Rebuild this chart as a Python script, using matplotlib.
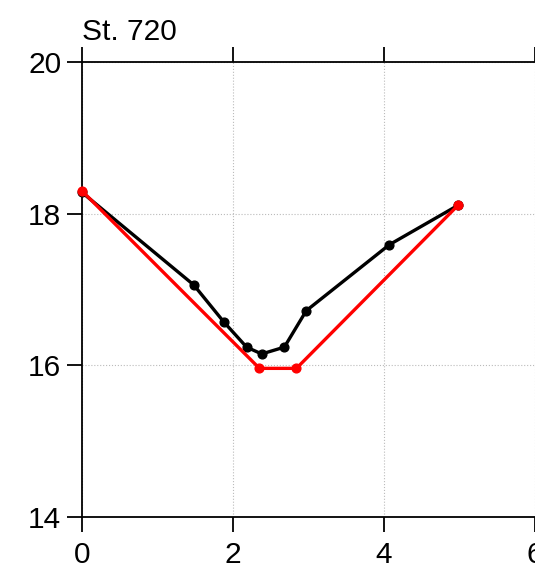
import matplotlib
matplotlib.use("Agg")
import matplotlib.pyplot as plt

plt.rcParams['font.family'] = ['Liberation Sans', 'DejaVu Sans']

title = "St. 720"
black_x = [0.0, 1.48, 1.88, 2.18, 2.38, 2.68, 2.97, 4.07, 4.98]
black_y = [18.28, 17.06, 16.57, 16.24, 16.15, 16.24, 16.72, 17.59, 18.11]
red_x = [0.0, 2.35, 2.84, 4.98]
red_y = [18.30, 15.96, 15.96, 18.11]
xticks = [0, 2, 4, 6]
yticks = [14, 16, 18, 20]

fig = plt.figure(figsize=(5.35, 5.74), dpi=100)
ax = fig.add_axes([0.1533, 0.0993, 0.8467, 0.7927])

ax.plot(black_x, black_y, color='black', lw=2.4, marker='o', ms=6.3, zorder=3, clip_on=False)
ax.plot(red_x, red_y, color='#ff0000', lw=2.4, marker='o', ms=6.3, zorder=4, clip_on=False)

ax.set_xlim(0, 6)
ax.set_ylim(14, 20)
ax.set_xticks(xticks)
ax.set_yticks(yticks)
ax.grid(True, color='#bbbbbb', ls=':', lw=0.8)
ax.set_axisbelow(True)
ax.spines['right'].set_visible(False)
for s in ['left', 'top', 'bottom']:
    ax.spines[s].set_linewidth(1.3)
ax.tick_params(axis='both', direction='out', length=11, width=1.3, labelsize=21.5, pad=4,
               top=True, labeltop=False)
ax.tick_params(axis='x', pad=6)
ax.set_title(title, loc='left', fontsize=21.5, pad=16)

fig.savefig("out.png", dpi=100)
